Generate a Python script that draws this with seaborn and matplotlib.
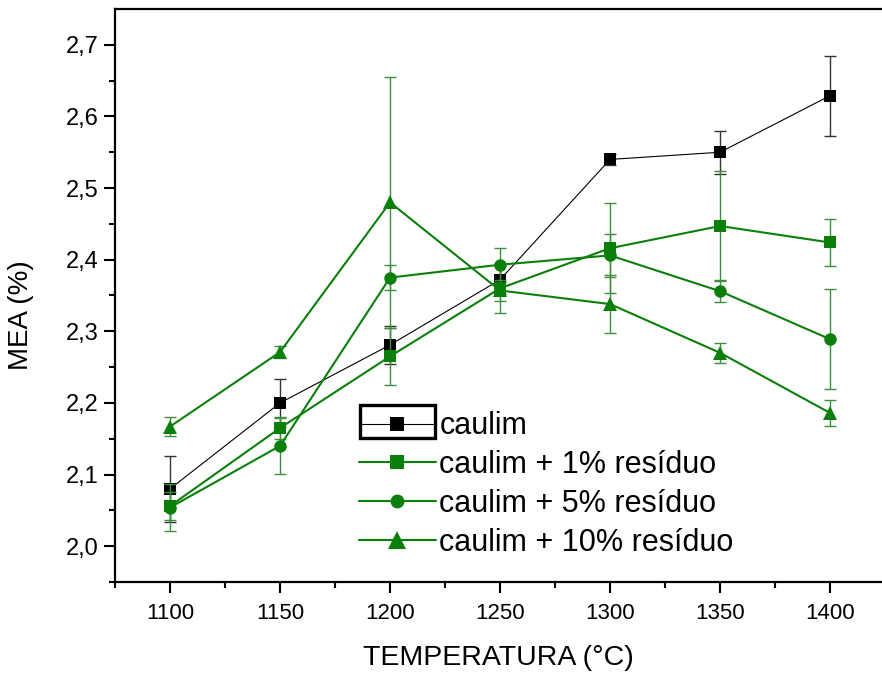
import matplotlib
matplotlib.use("Agg")
import matplotlib.pyplot as plt
import seaborn as sns
import numpy as np
from matplotlib.patches import Rectangle

# ---- data ----
temps = [1100, 1150, 1200, 1250, 1300, 1350, 1400]

caulim = [2.080, 2.200, 2.281, 2.372, 2.540, 2.550, 2.629]
caulim_err = [0.046, 0.034, 0.026, 0.020, 0.008, 0.030, 0.056]

res1 = [2.056, 2.165, 2.265, 2.360, 2.416, 2.447, 2.424]
res1_err = [0.020, 0.015, 0.040, 0.034, 0.063, 0.077, 0.033]

res5 = [2.054, 2.140, 2.375, 2.393, 2.406, 2.356, 2.289]
res5_err = [0.033, 0.039, 0.018, 0.024, 0.030, 0.015, 0.070]

res10 = [2.167, 2.271, 2.480, 2.357, 2.338, 2.270, 2.186]
res10_err = [0.013, 0.008, 0.175, 0.015, 0.040, 0.014, 0.018]

labels = ["caulim", "caulim + 1% resíduo", "caulim + 5% resíduo", "caulim + 10% resíduo"]

x_ticks = [1100, 1150, 1200, 1250, 1300, 1350, 1400]
x_tick_labels = ["1100", "1150", "1200", "1250", "1300", "1350", "1400"]
y_ticks = [2.0, 2.1, 2.2, 2.3, 2.4, 2.5, 2.6, 2.7]
y_tick_labels = ["2,0", "2,1", "2,2", "2,3", "2,4", "2,5", "2,6", "2,7"]

# ---- style ----
sns.set_style("ticks")
plt.rcParams["font.family"] = ["Liberation Sans", "DejaVu Sans"]
plt.rcParams["text.color"] = "black"
plt.rcParams["axes.labelcolor"] = "black"
plt.rcParams["xtick.color"] = "black"
plt.rcParams["ytick.color"] = "black"

GREEN = "#0a7f0a"
BLACK = "#000000"

fig = plt.figure(figsize=(8.82, 6.77), dpi=100)
ax = fig.add_axes([115 / 882, 95 / 677, 1 - 115 / 882, 573 / 677])

series = [
    (caulim, caulim_err, labels[0], BLACK, "s", 8.6, 0.8, "#333333", 2),
    (res1, res1_err, labels[1], GREEN, "s", 8.6, 1.5, "#3d8f3d", 3),
    (res5, res5_err, labels[2], GREEN, "o", 9.0, 1.5, "#3d8f3d", 3),
    (res10, res10_err, labels[3], GREEN, "^", 10.0, 1.5, "#3d8f3d", 3),
]

for vals, errs, lab, col, mk, ms, lw, ecol, z in series:
    ax.errorbar(temps, vals, yerr=errs, fmt="none", ecolor=ecol,
                elinewidth=1.0, capsize=4.3, capthick=1.0, zorder=z - 0.5)
    sns.lineplot(x=temps, y=vals, ax=ax, color=col, marker=mk, markersize=ms,
                 markeredgewidth=0, linewidth=lw, label=lab, zorder=z)

ax.set_xlim(1075, 1423.6)
ax.set_ylim(1.95, 2.75)
ax.set_xticks(x_ticks)
ax.set_xticklabels(x_tick_labels)
ax.set_yticks(y_ticks)
ax.set_yticklabels(y_tick_labels)
ax.set_xticks(np.arange(1075, 1425, 25), minor=True)
ax.set_yticks(np.arange(1.95, 2.75, 0.05), minor=True)

ax.tick_params(axis="both", which="major", direction="out", length=8, width=1.5, color="black")
ax.tick_params(axis="both", which="minor", direction="out", length=4.3, width=1.5, color="black")
ax.tick_params(axis="y", which="major", labelsize=17, pad=4, labelcolor="black")
ax.tick_params(axis="x", which="major", labelsize=16, pad=7, labelcolor="black")

for s in ["left", "bottom", "top"]:
    ax.spines[s].set_linewidth(1.6)
    ax.spines[s].set_color("black")
ax.spines["right"].set_visible(False)

ax.set_xlabel("TEMPERATURA (°C)", fontsize=20.5, labelpad=15, color="black")
ax.set_ylabel("MEA (%)", fontsize=20, color="black")
ax.yaxis.set_label_coords(-0.105, 0.466)

leg = ax.legend(loc="upper left", bbox_to_anchor=(0.318, 0.298), frameon=False,
                fontsize=22, handlelength=2.52, handletextpad=0.11, borderpad=0,
                borderaxespad=0, labelspacing=0.29)
for t in leg.get_texts():
    t.set_color("black")
for h, msz in zip(leg.legend_handles, [10, 9.5, 10, 13]):
    h.set_markersize(msz)

ax.add_patch(Rectangle((0.319, 0.2513), 0.0987, 0.0576, transform=ax.transAxes,
                       fill=False, edgecolor="black", linewidth=2.4, zorder=10,
                       clip_on=False))

fig.savefig("out.png", dpi=100)
